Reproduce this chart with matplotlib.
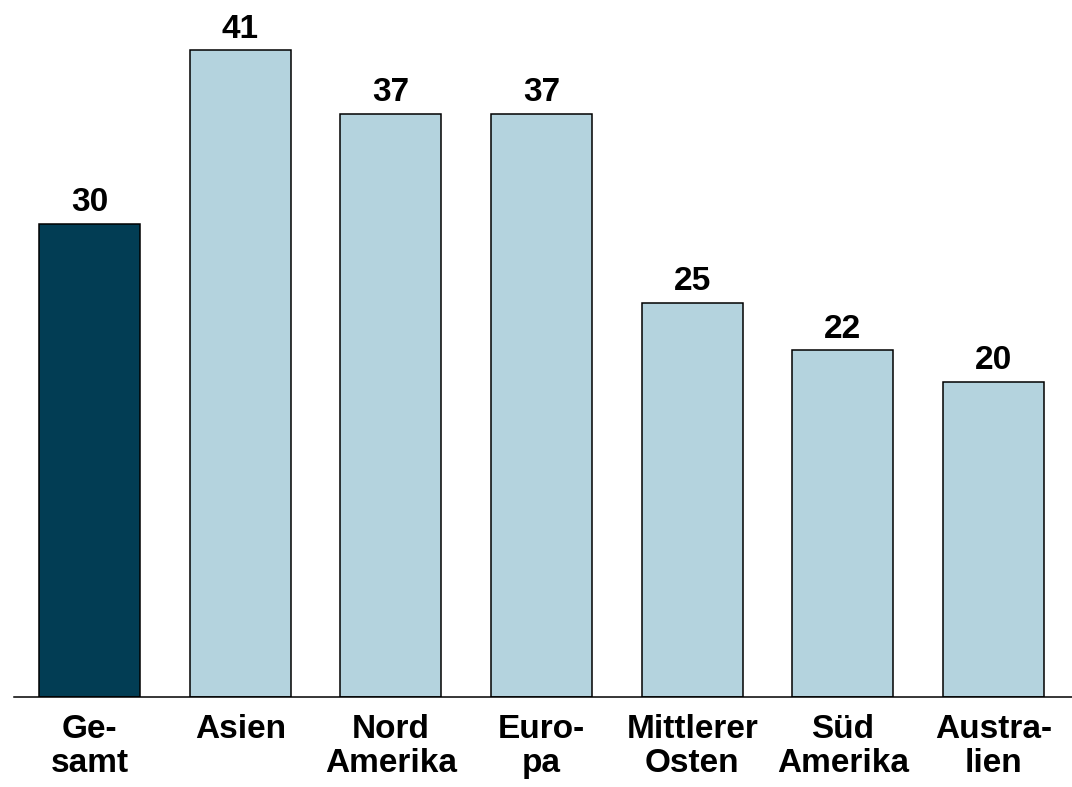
import matplotlib
matplotlib.use('Agg')
import matplotlib.pyplot as plt

plt.rcParams['font.family'] = ['Liberation Sans', 'DejaVu Sans']

categories = ['Ge-\nsamt', 'Asien', 'Nord\nAmerika', 'Euro-\npa', 'Mittlerer\nOsten', 'Süd\nAmerika', 'Austra-\nlien']
values = [30, 41, 37, 37, 25, 22, 20]
colours = ['#023d54'] + ['#b4d3de'] * 6

fig = plt.figure(figsize=(10.72, 7.87), dpi=100)
ax = fig.add_axes([0.0126, 0.1144, 0.9874, 0.8856])

x = list(range(len(values)))
ax.bar(x, values, width=0.67, color=colours, edgecolor='black', linewidth=1.1, zorder=2)

for xi, v in zip(x, values):
    ax.annotate(str(v), (xi, v), xytext=(0, 4), textcoords='offset points',
                ha='center', va='bottom', fontsize=24, fontweight='bold')

ax.set_xlim(-0.505, 6.52)
ax.set_ylim(0, 44.2)
ax.set_xticks(x)
ax.set_xticklabels(categories, fontsize=24, fontweight='bold', linespacing=1.12)
ax.tick_params(axis='x', length=0, pad=12)
ax.set_yticks([])
for side in ['top', 'right', 'left']:
    ax.spines[side].set_visible(False)
ax.spines['bottom'].set_linewidth(1.1)

fig.savefig('out.png', dpi=100)
